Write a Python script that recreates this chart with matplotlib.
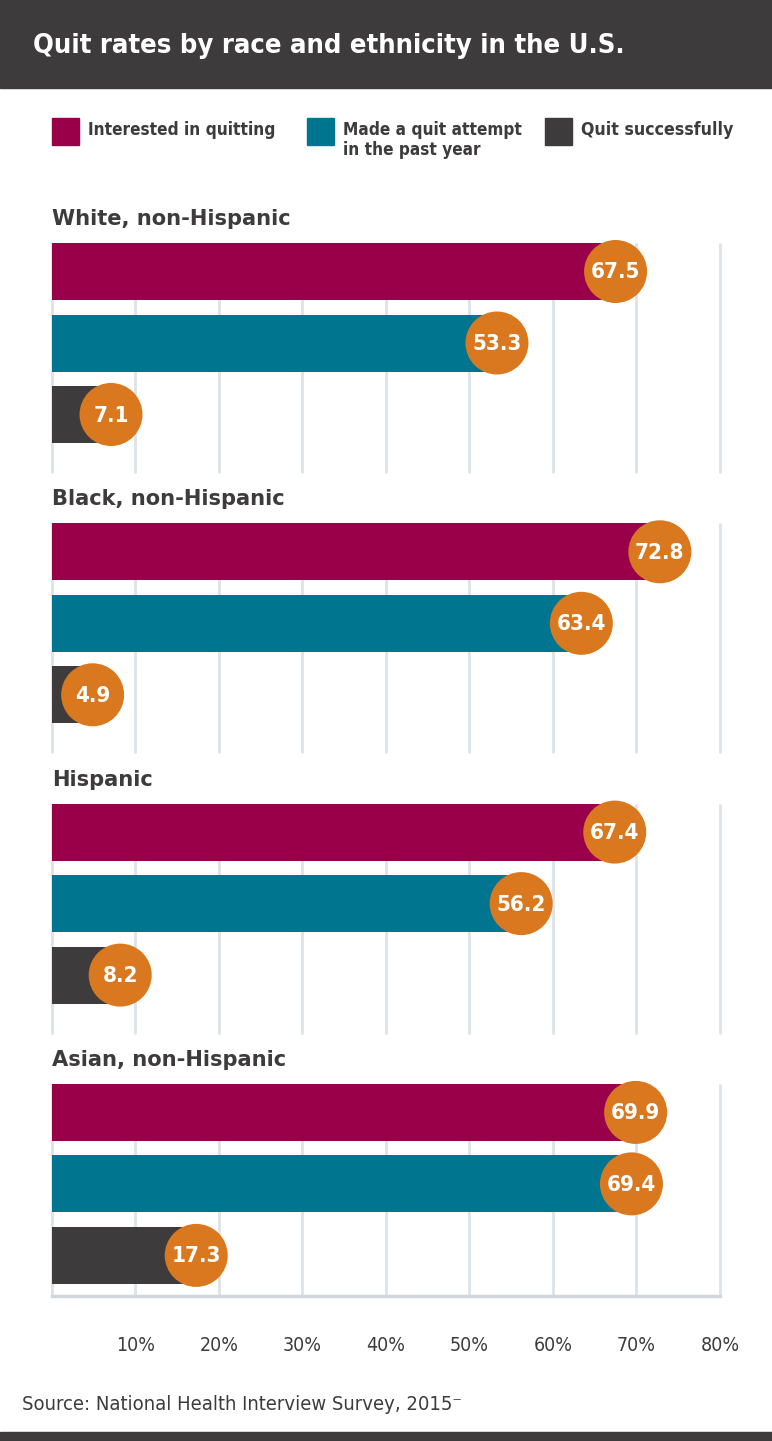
import matplotlib
matplotlib.use("Agg")
import matplotlib.pyplot as plt
from matplotlib.patches import Rectangle

# ---------------- data ----------------
groups = ["White, non-Hispanic", "Black, non-Hispanic", "Hispanic", "Asian, non-Hispanic"]
series_names = ["Interested in quitting", "Made a quit attempt\nin the past year", "Quit successfully"]
interested = [67.5, 72.8, 67.4, 69.9]
attempt = [53.3, 63.4, 56.2, 69.4]
quit_ok = [7.1, 4.9, 8.2, 17.3]
tick_values = [10, 20, 30, 40, 50, 60, 70, 80]
tick_labels = ["10%", "20%", "30%", "40%", "50%", "60%", "70%", "80%"]
title = "Quit rates by race and ethnicity in the U.S."
source = "Source: National Health Interview Survey, 2015\u207b"

# ---------------- style ----------------
W, H = 772, 1441
DARK = "#3d3b3c"
MAGENTA = "#990049"
TEAL = "#00758f"
ORANGE = "#d9781e"
GRID = "#dce3e9"
colors = [MAGENTA, TEAL, DARK]
FONT = "DejaVu Sans"

fig = plt.figure(figsize=(W / 100, H / 100), dpi=100)
fig.patch.set_facecolor("white")


def fx(px):
    return px / W


def fy(py):
    return 1 - py / H


renderer = fig.canvas.get_renderer()


def fit(t, width_px):
    bb = t.get_window_extent(renderer)
    t.set_fontsize(t.get_fontsize() * width_px / bb.width)


# header band and footer band
fig.patches.append(Rectangle((0, fy(88)), 1, 88 / H, transform=fig.transFigure,
                             color=DARK, zorder=0))
fig.patches.append(Rectangle((0, 0), 1, 9 / H, transform=fig.transFigure,
                             color=DARK, zorder=0))

t = fig.text(fx(33), fy(46), title, color="white", fontsize=20, fontweight="bold",
             family=FONT, fontstretch="condensed", va="center", ha="left")
fit(t, 594)

# legend
leg_x = [52, 307, 545]
leg_w = [187, 178, 152]
for i, name in enumerate(series_names):
    fig.patches.append(Rectangle((fx(leg_x[i]), fy(145)), 27 / W, 27 / H,
                                 transform=fig.transFigure, color=colors[i]))
    lt = fig.text(fx(leg_x[i] + 36), fy(121), name, color=DARK, fontsize=13,
                  fontweight="bold", family=FONT, fontstretch="condensed",
                  va="top", ha="left", linespacing=1.12)
    fit(lt, leg_w[i])

# main axes: x in percent, y in pixel units of the layout
left_px, right_px, top_px, bottom_px = 51.7, 720, 190, 1296
ax = fig.add_axes([fx(left_px), fy(bottom_px), (right_px - left_px) / W,
                   (bottom_px - top_px) / H])
ax.set_xlim(0, 80)
ax.set_ylim(bottom_px, top_px)
ax.set_facecolor("none")

group_top0 = 243
group_step = 280.3
bar_step = 71.5
bar_h = 57
circle_d = 63

values = [interested, attempt, quit_ok]
for g, gname in enumerate(groups):
    gtop = group_top0 + g * group_step
    gbottom = bottom_px if g == len(groups) - 1 else gtop + 230
    ax.vlines([0] + tick_values, gtop, gbottom, color=GRID, lw=2, zorder=1,
              clip_on=False)
    gt = ax.text(0, gtop - 24, gname, color=DARK, fontsize=15, fontweight="bold",
                 family=FONT, va="center", ha="left")
    if g == 0:
        fit(gt, 240)
        gsize = gt.get_fontsize()
    else:
        gt.set_fontsize(gsize)
    for s in range(3):
        yc = gtop + s * bar_step + bar_h / 2
        v = values[s][g]
        ax.barh(yc, v, height=bar_h, color=colors[s], zorder=2)
        ax.scatter([v], [yc], s=(circle_d * 0.72) ** 2, color=ORANGE,
                   edgecolors="none", zorder=3, clip_on=False)
        ax.text(v, yc + 1, f"{v}", color="white", fontsize=16, fontweight="bold",
                family=FONT, fontstretch="condensed", ha="center", va="center",
                zorder=4)

for sp in ["left", "right", "top"]:
    ax.spines[sp].set_visible(False)
ax.spines["bottom"].set_color("#cfd6dc")
ax.spines["bottom"].set_linewidth(2.5)
ax.set_yticks([])
ax.set_xticks(tick_values)
ax.set_xticklabels(tick_labels, color=DARK, fontsize=14, family=FONT,
                   fontstretch="condensed")
ax.tick_params(axis="x", length=0, pad=29)

st = fig.text(fx(22), fy(1405), source, color=DARK, fontsize=13, family=FONT,
              fontstretch="condensed", va="center", ha="left")
fit(st, 440)

fig.savefig("out.png", dpi=100)
